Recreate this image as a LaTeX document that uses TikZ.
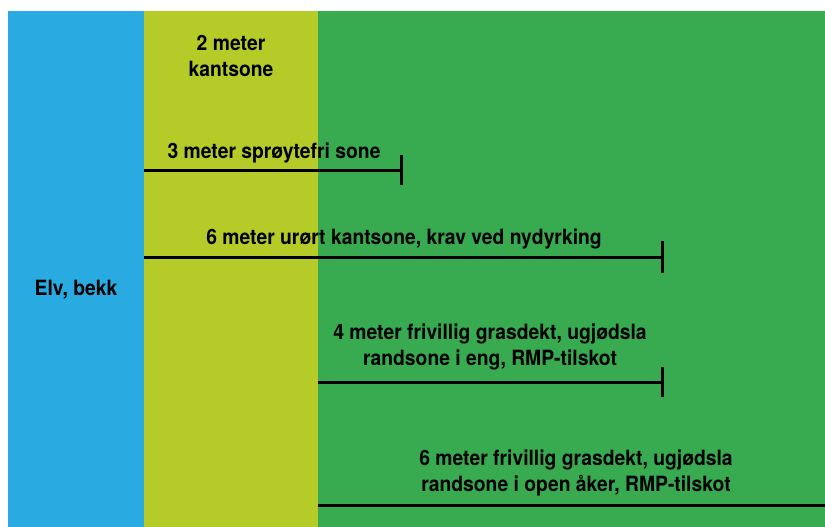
\documentclass[tikz,border=0pt]{standalone}
\usepackage{fontspec}
\setmainfont{TeX Gyre Heros}[FakeStretch=0.92]
\usetikzlibrary{arrows.meta}
\definecolor{elv}{HTML}{29ABE2}
\definecolor{kant}{HTML}{B4CB28}
\definecolor{aaker}{HTML}{38AA4F}

\begin{document}
\begin{tikzpicture}[
    x=1pt, y=-1pt,
    zone/.style={fill=#1, draw=none},
    lbl/.style={font=\bfseries\fontsize{21}{26.5}\selectfont, align=center, inner sep=0pt},
    soneline/.style={line width=3pt},
  ]
  \useasboundingbox (0,0) rectangle (825,527);
  \fill[zone=elv]   (8,11)   rectangle (144,527);
  \fill[zone=kant]  (144,11) rectangle (318,527);
  \fill[zone=aaker] (318,11) rectangle (825,527);

  \node[lbl] (elv)  at (76,290) {Elv, bekk};
  \node[lbl] (kant) at (231,56) {2 meter\\kantsone};

  \coordinate (s3a) at (144,170); \coordinate (s3b) at (403,170);
  \coordinate (s6a) at (144,257); \coordinate (s6b) at (664,257);
  \coordinate (f4a) at (318,382); \coordinate (f4b) at (664,382);
  \coordinate (f6a) at (318,505); \coordinate (f6b) at (825,505);

  \draw[soneline, -{Bar[width=30pt]}] (s3a) -- (s3b);
  \draw[soneline, -{Bar[width=32pt]}] (s6a) -- (s6b);
  \draw[soneline, -{Bar[width=30pt]}] (f4a) -- (f4b);
  \draw[soneline] (f6a) -- (f6b);

  \node[lbl] (t3) at (274,153) {3 meter sprøytefri sone};
  \node[lbl] (t6) at (404,239) {6 meter urørt kantsone, krav ved nydyrking};
  \node[lbl] (t4) at (490,347) {4 meter frivillig grasdekt, ugjødsla\\randsone i eng, RMP-tilskot};
  \node[lbl] (t6f) at (576,473) {6 meter frivillig grasdekt, ugjødsla\\randsone i open åker, RMP-tilskot};
\end{tikzpicture}
\end{document}
